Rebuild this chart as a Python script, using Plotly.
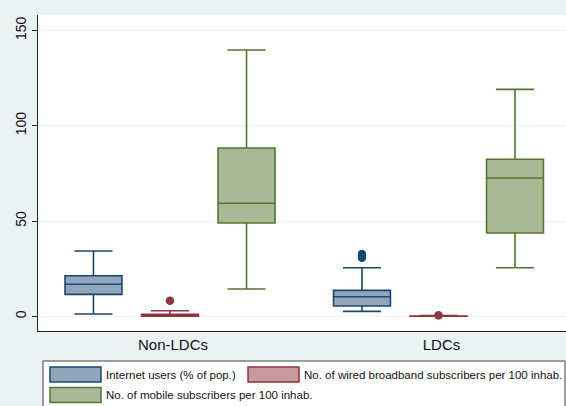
import plotly.graph_objects as go

# Country groups and the three indicators shown for each
groups = ["Non-LDCs", "LDCs"]
series = [
    "Internet users (% of pop.)",
    "No. of wired broadband subscribers per 100 inhab.",
    "No. of mobile subscribers per 100 inhab.",
]

# Box statistics per indicator: [Non-LDCs, LDCs]
internet_low = [1.2, 2.6]
internet_q1 = [11.5, 5.4]
internet_med = [16.8, 10.3]
internet_q3 = [21.3, 13.6]
internet_high = [34.3, 25.5]
internet_out = [[], [32.7, 30.7]]

broadband_low = [0.0, 0.0]
broadband_q1 = [0.0, 0.0]
broadband_med = [0.4, 0.05]
broadband_q3 = [1.0, 0.2]
broadband_high = [2.9, 0.4]
broadband_out = [[8.2], [0.5]]

mobile_low = [14.3, 25.5]
mobile_q1 = [49.0, 43.7]
mobile_med = [59.3, 72.6]
mobile_q3 = [88.3, 82.4]
mobile_high = [139.7, 119.1]
mobile_out = [[], []]

y_ticks = [0, 50, 100, 150]

line_colors = ["#1a476f", "#90353b", "#55752f"]
fill_colors = ["#90a6bd", "#c89a9d", "#aab995"]
BG = "#eaf2f3"

stats = [
    (internet_low, internet_q1, internet_med, internet_q3, internet_high, internet_out),
    (broadband_low, broadband_q1, broadband_med, broadband_q3, broadband_high, broadband_out),
    (mobile_low, mobile_q1, mobile_med, mobile_q3, mobile_high, mobile_out),
]

group_pos = list(range(len(groups)))
SLOT = 0.285      # distance between neighbouring boxes inside a group
BOX_W = 0.212

fig = go.Figure()
for i, (lo, q1, med, q3, hi, out) in enumerate(stats):
    xs = [g + (i - 1) * SLOT for g in group_pos]
    fig.add_trace(go.Box(
        x=xs, lowerfence=lo, q1=q1, median=med, q3=q3, upperfence=hi,
        name=series[i], width=BOX_W, whiskerwidth=0.67,
        fillcolor=fill_colors[i], line=dict(color=line_colors[i], width=1.6),
        boxpoints=False, showlegend=False,
    ))
    ox, oy = [], []
    for x, pts in zip(xs, out):
        ox += [x] * len(pts)
        oy += pts
    if oy:
        fig.add_trace(go.Scatter(
            x=ox, y=oy, mode="markers", showlegend=False,
            marker=dict(color=line_colors[i], size=8.5, line=dict(width=0)),
        ))

# Page geometry (pixels)
W, H = 566, 406
ML, MR, MT, MB = 38, 0, 15, 75
PW, PH = W - ML - MR, H - MT - MB


def px(x):
    return (x - ML) / PW


def py(y):
    return (H - MB - y) / PH


# Legend drawn below the plot
shapes = [dict(type="rect", xref="paper", yref="paper",
               x0=px(43), x1=px(565), y0=py(412), y1=py(361),
               line=dict(color="#404040", width=1), fillcolor="white", layer="above")]
annotations = []
legend_items = [(50, 374.5, 0), (248, 374.5, 1), (50, 395, 2)]
for lx, ly, k in legend_items:
    shapes.append(dict(type="rect", xref="paper", yref="paper",
                       x0=px(lx), x1=px(lx + 51), y0=py(ly + 7.5), y1=py(ly - 7.5),
                       line=dict(color=line_colors[k], width=1.5),
                       fillcolor=fill_colors[k], layer="above"))
    annotations.append(dict(xref="paper", yref="paper", x=px(lx + 54), y=py(ly),
                            text=series[k], showarrow=False, xanchor="left",
                            yanchor="middle",
                            font=dict(size=11.5, color="#111111",
                                      family="Liberation Sans, Arial, sans-serif")))

fig.update_layout(
    width=W, height=H,
    margin=dict(l=ML, r=MR, t=MT, b=MB),
    paper_bgcolor=BG, plot_bgcolor="white",
    font=dict(family="Liberation Sans, Arial, sans-serif", color="#111111"),
    shapes=shapes, annotations=annotations,
    xaxis=dict(range=[-0.4916, 1.4749], tickvals=group_pos, ticktext=groups,
               showgrid=False, zeroline=False, showline=True,
               linecolor="#222222", linewidth=1.2, ticks="",
               ticklabelshift=3, tickfont=dict(size=15)),
    yaxis=dict(range=[-7.7, 158.1], tickvals=y_ticks, tickangle=-90,
               ticks="outside", ticklen=5, tickcolor="#222222",
               showgrid=True, gridcolor=BG, gridwidth=1.2, zeroline=False,
               showline=True, linecolor="#222222", linewidth=1.2,
               tickfont=dict(size=14)),
)

fig.write_html("out.html")
